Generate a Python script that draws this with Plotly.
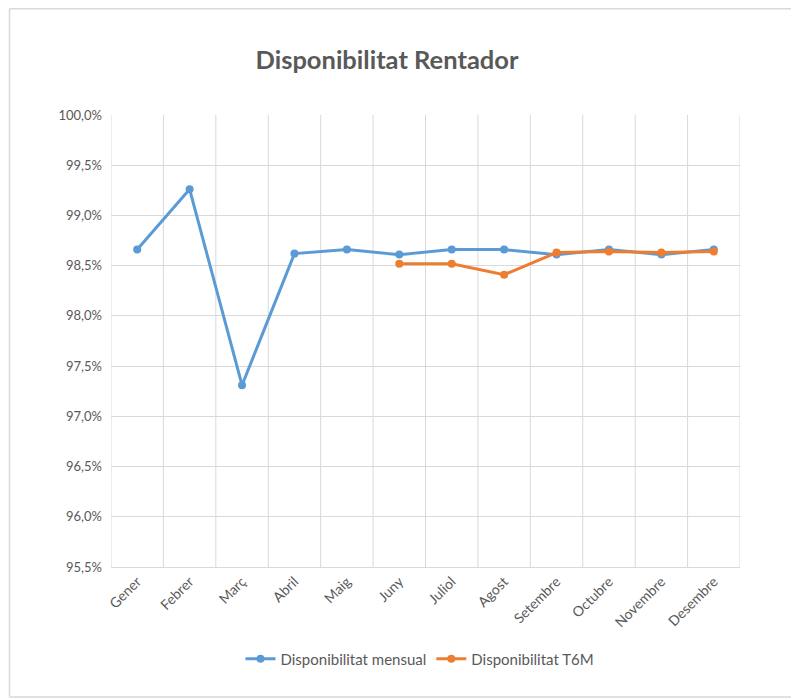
import plotly.graph_objects as go

months = ["Gener", "Febrer", "Març", "Abril", "Maig", "Juny", "Juliol", "Agost",
          "Setembre", "Octubre", "Novembre", "Desembre"]
mensual = [0.9866, 0.9926, 0.9731, 0.9862, 0.9866, 0.9861, 0.9866, 0.9866,
           0.9861, 0.9866, 0.9861, 0.9866]
t6m_months = ["Juny", "Juliol", "Agost", "Setembre", "Octubre", "Novembre", "Desembre"]
t6m = [0.9852, 0.9852, 0.9841, 0.9863, 0.9864, 0.9863, 0.9864]
y_ticks = [0.955, 0.96, 0.965, 0.97, 0.975, 0.98, 0.985, 0.99, 0.995, 1.0]
y_labels = ["95,5%", "96,0%", "96,5%", "97,0%", "97,5%", "98,0%", "98,5%", "99,0%", "99,5%", "100,0%"]

# page body has an 8px margin, so work in coordinates shifted by 8px
OFF = 8
W, H = 799 - OFF, 700 - OFF
L, R, T, B = 111 - OFF, 740 - OFF, 115 - OFF, 567 - OFF
FONT = "Lato, 'Open Sans', sans-serif"
GRAY = "#595959"

def px(x):
    return (x - OFF - L) / (R - L)

def py(y):
    return (B - (y - OFF)) / (B - T)

fig = go.Figure()
fig.add_trace(go.Scatter(x=months, y=mensual, mode="lines+markers",
                         name="Disponibilitat mensual",
                         line=dict(color="#5B9BD5", width=3),
                         marker=dict(color="#5B9BD5", size=8)))
fig.add_trace(go.Scatter(x=t6m_months, y=t6m, mode="lines+markers",
                         name="Disponibilitat T6M",
                         line=dict(color="#ED7D31", width=3),
                         marker=dict(color="#ED7D31", size=8)))

shapes = []
# chart frame
frame = dict(type="line", xref="paper", yref="paper", line=dict(color="#D9D9D9", width=1.5))
shapes.append({**frame, "x0": px(9.5), "x1": px(798), "y0": py(8.8), "y1": py(8.8)})
shapes.append({**frame, "x0": px(9.5), "x1": px(798), "y0": py(697), "y1": py(697)})
shapes.append({**frame, "x0": px(9.5), "x1": px(9.5), "y0": py(8.8), "y1": py(697)})
shapes.append({**frame, "x0": px(797.5), "x1": px(797.5), "y0": py(8.8), "y1": py(697)})

fig.update_layout(
    width=W, height=H,
    margin=dict(l=L, r=W - R, t=T, b=H - B, autoexpand=False),
    paper_bgcolor="white", plot_bgcolor="white",
    title=dict(text="<b>Disponibilitat Rentador</b>", x=(387 - OFF) / W, xref="container",
               xanchor="center", y=1 - (60 - OFF) / H, yref="container", yanchor="middle",
               font=dict(family=FONT, size=25.5, color=GRAY)),
    font=dict(family=FONT, color=GRAY, size=13),
    xaxis=dict(type="category", categoryorder="array", categoryarray=months,
               range=[-0.5, 11.5], tickangle=-45, showgrid=False, automargin=False,
               showline=True, linecolor="#D9D9D9", linewidth=1, ticks="",
               tickfont=dict(family=FONT, size=14, color=GRAY)),
    yaxis=dict(range=[0.955, 1.0], tickvals=y_ticks, ticktext=y_labels, automargin=False,
               showgrid=True, gridcolor="#D9D9D9", gridwidth=1, zeroline=False,
               showline=False, ticks="", ticklabelstandoff=8,
               tickfont=dict(family=FONT, size=13, color=GRAY)),
    legend=dict(orientation="h", x=(420 - OFF) / W, xref="container", xanchor="center",
                y=1 - (659 - OFF) / H, yref="container",
                yanchor="middle", font=dict(family=FONT, size=15, color=GRAY),
                traceorder="normal"),
    shapes=shapes,
    showlegend=True,
)
# vertical category boundary gridlines
for i in range(13):
    fig.add_shape(type="line", xref="x", yref="paper", x0=i - 0.5, x1=i - 0.5,
                  y0=0, y1=1, line=dict(color="#D9D9D9", width=1), layer="below")

fig.write_html("out.html")
